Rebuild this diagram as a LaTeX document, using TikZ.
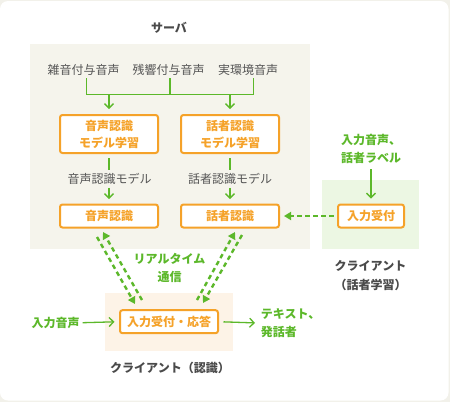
\documentclass[tikz,border=0pt]{standalone}
\usepackage{fontspec}
\setmainfont{Noto Sans CJK JP}
\usetikzlibrary{arrows.meta}

\definecolor{flowgreen}{HTML}{5CB82A}
\definecolor{boxorange}{HTML}{F5A229}
\definecolor{textgray}{HTML}{555555}
\definecolor{titlegray}{HTML}{4A4A4A}
\definecolor{serverbg}{HTML}{F5F4EC}
\definecolor{learnbg}{HTML}{ECF7E3}
\definecolor{recogbg}{HTML}{FDF3E7}
\definecolor{framebg}{HTML}{F2F1EA}

\tikzset{
  procbox/.style={draw=boxorange, line width=2pt, fill=white, rounded corners=2.5pt,
    text=boxorange, font=\bfseries\fontsize{12}{17}\selectfont, align=center,
    inner sep=0pt, minimum width=98pt, minimum height=23pt},
  datalabel/.style={text=textgray, font=\fontsize{12}{17}\selectfont, inner sep=3pt},
  greenlabel/.style={text=flowgreen, font=\bfseries\fontsize{12}{18}\selectfont, inner sep=3pt},
  paneltitle/.style={text=titlegray, font=\bfseries\fontsize{12}{19}\selectfont, align=center},
  flow/.style={draw=flowgreen, line width=1.3pt},
  flowarrow/.style={flow, -{Straight Barb[length=4.5pt,width=9pt]}},
  dasharrow/.style={draw=flowgreen, line width=2.4pt, dash pattern=on 4.5pt off 3.5pt,
    -{Triangle[length=7pt,width=8pt]}}
}

\begin{document}
\begin{tikzpicture}[x=1pt,y=-1pt]
  \useasboundingbox (0,0) rectangle (450,402);
  % frame
  \fill[framebg] (0,0) rectangle (450,402);
  \fill[white, rounded corners=8pt] (0,1) rectangle (448.5,400.5);
  % panels
  \fill[serverbg] (30,44) rectangle (310,249.3);
  \fill[learnbg] (321.7,180) rectangle (419.3,249.3);
  \fill[recogbg] (105,293.3) rectangle (232.7,351);
  \node[paneltitle] (servertitle) at (169,27.5) {サーバ};
  \node[paneltitle] (learntitle) at (370.5,276) {クライアント\\（話者学習）};
  \node[paneltitle] (recogtitle) at (170,368.3) {クライアント（認識）};

  % training data
  \node[datalabel] (noise) at (83.5,69.5) {雑音付与音声};
  \node[datalabel] (reverb) at (168.5,69.5) {残響付与音声};
  \node[datalabel] (real) at (248,69.5) {実環境音声};
  \coordinate (join) at (170,94.3);
  \draw[flow] ([xshift=2.8pt]noise.south) -- ([xshift=2.8pt]noise.south |- join)
    -- ([xshift=5.7pt]real.south |- join) -- ([xshift=5.7pt]real.south);
  \draw[flow] (join) -- (join |- reverb.south);

  % server boxes
  \node[procbox, minimum height=38pt] (asrlearn) at (109,134) {音声認識\\モデル学習};
  \node[procbox, minimum height=38pt] (spklearn) at (230,134) {話者認識\\モデル学習};
  \node[procbox] (asr) at (109,216) {音声認識};
  \node[procbox] (spk) at (230,216) {話者認識};
  \draw[flowarrow, shorten >=5pt] (asrlearn.north |- join) -- (asrlearn.north);
  \draw[flowarrow, shorten >=5pt] (spklearn.north |- join) -- (spklearn.north);

  \node[datalabel] (asrmodel) at (109.5,179) {音声認識モデル};
  \node[datalabel] (spkmodel) at (230,179) {話者認識モデル};
  \draw[flow, shorten <=4pt] (asrlearn.south) -- (asrlearn.south |- asrmodel.north);
  \draw[flow, shorten <=4pt] (spklearn.south) -- (spklearn.south |- spkmodel.north);
  \draw[flowarrow, shorten >=4.5pt] (asrmodel.south -| asr.north) -- (asr.north);
  \draw[flowarrow, shorten >=4.5pt] (spkmodel.south -| spk.north) -- (spk.north);

  % client (speaker learning)
  \node[procbox, minimum width=66pt] (inbox) at (371,216) {入力受付};
  \node[greenlabel, align=center] (inlabel) at (371,148.7) {入力音声、\\話者ラベル};
  \draw[flowarrow, shorten <=2.5pt, shorten >=5pt] (inlabel.south -| inbox.north) -- (inbox.north);
  \draw[dasharrow, shorten <=3.5pt, shorten >=4pt] (inbox.west) -- (spk.east);

  % client (recognition)
  \node[procbox] (recv) at (169,321.7) {入力受付・応答};
  \node[greenlabel] (voice) at (55.5,322.7) {入力音声};
  \node[greenlabel, anchor=west, align=left] (result) at (257.7,323) {テキスト、\\発話者};
  \draw[flowarrow, shorten >=4.5pt] (voice.east) -- (recv.west);
  \draw[flowarrow, shorten <=4.5pt, shorten >=2.7pt] (recv.east) -- (result.west);

  % realtime link
  \node[greenlabel, align=center] (rtlabel) at (169.5,267.8) {リアルタイム\\通信};
  \coordinate (asrdown) at (97,237);
  \coordinate (recvin) at (135,304);
  \coordinate (recvout) at (142,300);
  \coordinate (asrup) at (103,232);
  \coordinate (spkdown) at (242,235);
  \coordinate (recvin2) at (203,303);
  \coordinate (recvout2) at (197,300);
  \coordinate (spkup) at (235,232);
  \draw[dasharrow] (asrdown) -- (recvin);
  \draw[dasharrow] (recvout) -- (asrup);
  \draw[dasharrow] (spkdown) -- (recvin2);
  \draw[dasharrow] (recvout2) -- (spkup);
\end{tikzpicture}
\end{document}
